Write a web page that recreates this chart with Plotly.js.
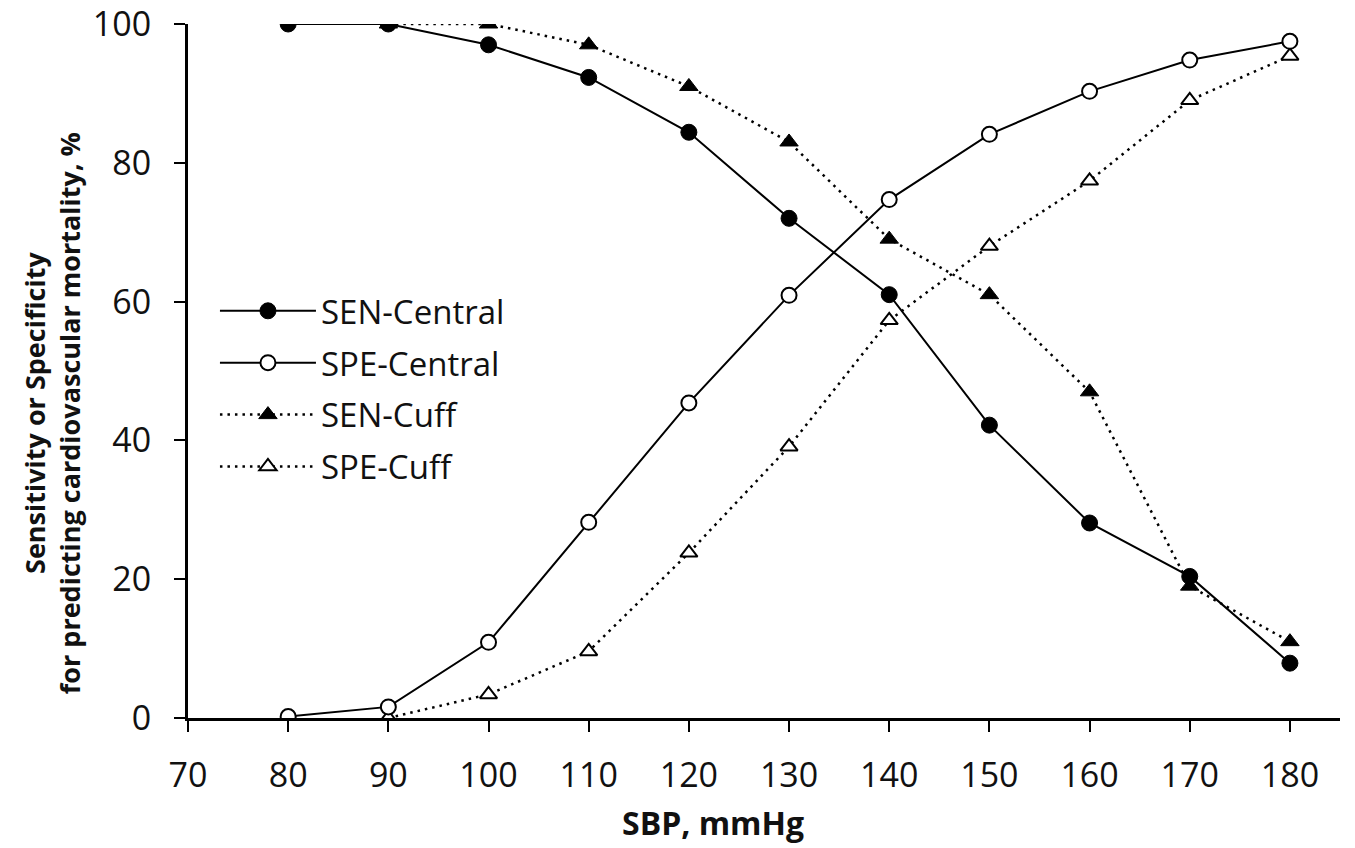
<!DOCTYPE html>
<html>
<head>
<meta charset="utf-8">
<script src="https://cdn.plot.ly/plotly-3.0.1.min.js"></script>
<style>html,body{margin:0;padding:0;background:#fff;}#chart{width:1355px;height:848px;}</style>
</head>
<body>
<div id="chart"></div>
<script>
const sbpCentral = [80, 90, 100, 110, 120, 130, 140, 150, 160, 170, 180];
const senCentral = [100, 100, 97, 92.3, 84.4, 72, 61, 42.2, 28.1, 20.4, 7.9];
const speCentral = [0.2, 1.6, 10.9, 28.2, 45.4, 60.9, 74.7, 84.1, 90.3, 94.8, 97.5];
const sbpCuff = [90, 100, 110, 120, 130, 140, 150, 160, 170, 180];
const senCuff = [100, 100, 97, 91, 83, 69, 61, 47, 19, 11];
const speCuff = [0, 3.4, 9.6, 23.8, 39.1, 57.3, 68, 77.4, 89, 95.4];
const xTicks = [70, 80, 90, 100, 110, 120, 130, 140, 150, 160, 170, 180];
const yTicks = [0, 20, 40, 60, 80, 100];
const xTitle = 'SBP, mmHg';
const yTitle = 'Sensitivity or Specificity<br>for predicting cardiovascular mortality, %';

const FONT = 'Open Sans, sans-serif';
const DOT = '2.5px,5px';

const traces = [
  {x: sbpCuff, y: senCuff, name: 'SEN-Cuff', mode: 'lines+markers', legendrank: 3, legendgroup: 'c',
   line: {color: '#000', width: 2.5, dash: DOT},
   marker: {symbol: 'triangle-up', size: 16, color: '#000', line: {color: '#000', width: 1}}},
  {x: sbpCuff, y: speCuff, name: 'SPE-Cuff', mode: 'lines+markers', legendrank: 4, legendgroup: 'd',
   line: {color: '#000', width: 2.5, dash: DOT},
   marker: {symbol: 'triangle-up', size: 15, color: '#fff', line: {color: '#000', width: 2}}},
  {x: sbpCentral, y: senCentral, name: 'SEN-Central', mode: 'lines+markers', legendrank: 1, legendgroup: 'a',
   line: {color: '#000', width: 2},
   marker: {symbol: 'circle', size: 16, color: '#000', line: {color: '#000', width: 1}}},
  {x: sbpCentral, y: speCentral, name: 'SPE-Central', mode: 'lines+markers', legendrank: 2, legendgroup: 'b',
   line: {color: '#000', width: 2},
   marker: {symbol: 'circle', size: 15, color: '#fff', line: {color: '#000', width: 2}}}
];

const layout = {
  width: 1355, height: 848,
  margin: {l: 188, r: 15, t: 24, b: 130},
  paper_bgcolor: '#fff', plot_bgcolor: '#fff',
  showlegend: true,
  legend: {x: 0.0234, y: 0.627, xanchor: 'left', yanchor: 'top', bgcolor: 'rgba(0,0,0,0)',
           font: {family: FONT, size: 33, color: '#111'}, traceorder: 'grouped',
           itemwidth: 96, tracegroupgap: 6},
  xaxis: {
    range: [70, 185], tickvals: xTicks, ticktext: xTicks.map(String),
    showgrid: false, zeroline: false, showline: true, linecolor: '#000', linewidth: 3,
    ticks: 'outside', ticklen: 11, tickwidth: 2, tickcolor: '#000', ticklabelstandoff: 14,
    ticklabeloverflow: 'allow',
    tickfont: {family: FONT, size: 34, color: '#111'}
  },
  yaxis: {
    range: [0, 100], tickvals: yTicks, ticktext: yTicks.map(String),
    showgrid: false, zeroline: false, showline: true, linecolor: '#000', linewidth: 3,
    ticks: 'outside', ticklen: 11, tickwidth: 2, tickcolor: '#000', ticklabelstandoff: 16,
    ticklabeloverflow: 'allow',
    tickfont: {family: FONT, size: 34, color: '#111'}
  },
  annotations: [
    {text: xTitle, xref: 'paper', yref: 'paper', x: 0.4557, y: -0.15, xanchor: 'center', yanchor: 'middle',
     showarrow: false, font: {family: FONT, size: 32, color: '#111', weight: 'bold'}},
    {text: yTitle, xref: 'paper', yref: 'paper', x: -0.1185, y: 0.44, xanchor: 'center', yanchor: 'middle',
     textangle: -90, showarrow: false, font: {family: FONT, size: 27, color: '#111', weight: 'bold'}}
  ]
};

Plotly.newPlot('chart', traces, layout, {displayModeBar: false, staticPlot: true});
</script>
</body>
</html>
